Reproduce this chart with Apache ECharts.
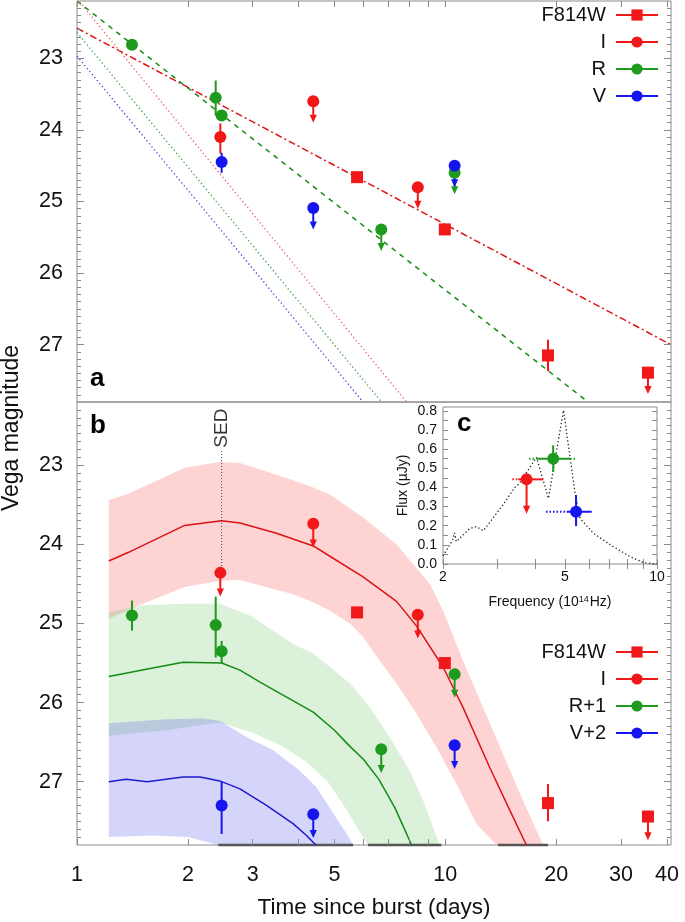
<!DOCTYPE html>
<html><head><meta charset="utf-8">
<script src="https://cdn.jsdelivr.net/npm/echarts@6/dist/echarts.min.js"></script>
<style>html,body{margin:0;padding:0;background:#fff}#c{width:685px;height:922px}</style>
</head><body><div id="c"></div>
<script>
// ================= DATA =================
// Panel a : Vega magnitudes vs time (days)
const aF814W    = [[5.76,24.66],[9.97,25.39],[19.0,27.15],[35.5,27.39]];
const aF814WErr = [[19.0,26.93,27.37]];
const aF814WLim = [[35.5,27.39]];
const aI        = [[2.45,24.10],[4.38,23.60],[8.42,24.80]];
const aIErr     = [[2.45,23.91,24.33]];
const aILim     = [[4.38,23.60],[8.42,24.80]];
const aR        = [[1.41,22.81],[2.38,23.55],[2.47,23.80],[6.70,25.39],[10.6,24.60]];
const aRErr     = [[2.38,23.31,23.80]];
const aRLim     = [[6.70,25.39],[10.6,24.60]];
const aV        = [[2.47,24.45],[4.38,25.09],[10.6,24.50]];
const aVErr     = [[2.47,24.32,24.60]];
const aVLim     = [[4.38,25.09],[10.6,24.50]];
// Panel a : power-law fits
const fitF814W = [[1,22.58],[41,27.00]];
const fitR     = [[1,22.20],[24.4,27.80]];
const fitIdot  = [[1,22.17],[7.85,27.80]];
const fitRdot  = [[1,22.64],[6.71,27.80]];
const fitVdot  = [[1,22.97],[5.98,27.80]];

// Panel b
const bF814W    = [[5.76,24.86],[9.97,25.50],[19.0,27.27],[35.5,27.44]];
const bF814WErr = [[19.0,27.03,27.50]];
const bF814WLim = [[35.5,27.44]];
const bI        = [[2.45,24.36],[4.38,23.74],[8.42,24.89]];
const bILim     = [[2.45,24.36],[4.38,23.74],[8.42,24.89]];
const bR        = [[1.41,24.90],[2.38,25.02],[2.47,25.35],[6.70,26.59],[10.6,25.64]];
const bRErr     = [[1.41,24.71,25.09],[2.38,24.66,25.43],[2.47,25.22,25.51]];
const bRLim     = [[6.70,26.59],[10.6,25.64]];
const bV        = [[2.47,27.30],[4.38,27.41],[10.6,26.54]];
const bVErr     = [[2.47,27.00,27.66]];
const bVLim     = [[4.38,27.41],[10.6,26.54]];
// Panel b : models and bands
const redModel = [[1.22,24.21],[1.38,24.10],[1.96,23.76],[2.47,23.70],[2.77,23.73],[3.48,23.86],[4.38,24.02],[4.86,24.15],[5.98,24.41],[7.37,24.72],[8.35,25.03],[9.86,25.55],[11.17,26.06],[13.2,26.82],[14.96,27.36],[16.6,27.80]];
const redUpper = [[1.22,23.44],[1.38,23.36],[1.96,23.03],[2.44,22.96],[2.77,22.97],[3.86,23.19],[4.38,23.28],[4.86,23.37],[5.98,23.66],[7.37,24.00],[9.08,24.50],[9.86,24.84],[11.17,25.47],[12.66,26.06],[14.35,26.65],[16.26,27.24],[18.43,27.80],[19.5,28.10]];
const redLower = [[1.22,24.94],[1.42,24.80],[1.96,24.54],[2.44,24.46],[2.77,24.45],[3.86,24.63],[4.38,24.73],[4.86,24.84],[5.51,25.00],[5.98,25.17],[6.64,25.47],[7.37,25.76],[8.35,26.14],[9.46,26.56],[10.72,27.03],[12.15,27.53],[13.77,27.80],[14.5,28.00]];
const greenModel = [[1.22,25.67],[1.58,25.57],[1.94,25.49],[2.47,25.50],[2.77,25.59],[3.14,25.74],[4.38,26.12],[5.0,26.35],[5.5,26.55],[6.0,26.72],[6.6,26.97],[7.3,27.33],[8.1,27.80]];
const greenUpper = [[1.22,24.86],[1.5,24.77],[1.96,24.75],[2.44,24.75],[2.95,24.90],[3.86,25.26],[4.38,25.38],[4.86,25.55],[5.51,25.76],[6.24,26.06],[7.07,26.44],[8.01,26.86],[8.71,27.24],[9.66,27.80],[10.2,28.10]];
const greenLower = [[1.22,26.42],[1.75,26.35],[2.44,26.25],[3.0,26.38],[3.6,26.55],[4.2,26.75],[4.8,27.00],[5.3,27.30],[5.8,27.60],[6.17,27.80],[6.4,28.00]];
const blueModel = [[1.22,27.00],[1.36,26.97],[1.55,27.00],[1.94,26.94],[2.16,26.94],[2.44,26.99],[2.77,27.09],[3.27,27.30],[3.86,27.53],[4.2,27.68],[4.45,27.80]];
const blueUpper = [[1.22,26.26],[1.75,26.21],[2.2,26.20],[2.44,26.23],[2.9,26.44],[3.4,26.60],[4.0,26.85],[4.47,27.07],[4.96,27.40],[5.4,27.66],[5.62,27.80],[5.8,28.00]];
const blueLower = [[1.22,27.70],[1.6,27.68],[2.0,27.70],[2.42,27.80],[2.6,27.95]];
const bandFloor = [[2.42,5.62],[6.17,9.76],[13.9,19.0]];
const sedLine = [[2.47,22.82],[2.47,24.36]];
const sedLabel = [[2.47,22.53]];

// Panel c : SED (frequency 1e14 Hz, flux uJy)
const spec = [[2.0,0.042],[2.15,0.125],[2.18,0.163],[2.21,0.117],[2.45,0.186],[2.57,0.195],[2.71,0.174],[2.99,0.264],[3.22,0.334],[3.43,0.40],[3.55,0.42],[4.04,0.557],[4.42,0.343],[4.95,0.803],[5.40,0.369],[5.61,0.238],[6.20,0.16],[7.21,0.09],[8.18,0.038],[9.04,0.007],[10.0,0.0]];
const cI = [[3.75,0.442]];
const cIh = [[3.52,4.25,0.442]];
const cIhDot = [[3.37,3.52,0.442]];
const cILim = [[3.75,0.442]];
const cR = [[4.58,0.55]];
const cRv = [[4.58,0.48,0.62]];
const cRh = [[4.04,5.20,0.55]];
const cRhDot = [[3.82,4.04,0.55],[5.20,5.40,0.55]];
const cV = [[5.44,0.273]];
const cVv = [[5.44,0.198,0.36]];
const cVh = [[5.07,6.12,0.273]];
const cVhDot = [[4.34,5.07,0.273]];

// ticks / labels
const xTickVals = [1,2,3,4,5,6,7,8,9,10,20,30,40];
const xLabelVals = [1,2,3,5,10,20,30,40];
const magLabelVals = [23,24,25,26,27];
const magMinor = []; for (let i = 223; i <= 277; i++) { if (i % 10) magMinor.push(i / 10); }
const cTickX = [2,3,4,5,6,7,8,9,10];
const cLabelX = [2,5,10];
const cLabelY = [0,0.1,0.2,0.3,0.4,0.5,0.6,0.7,0.8];
const cTickY = []; for (let i = 0; i <= 16; i++) cTickY.push(+(i * 0.05).toFixed(2));

// ================= STYLE =================
const FONT = 'Liberation Sans';
const AX = '#8a8a8a';
const RED = '#f01818', GREEN = '#1e9a1e', BLUE = '#1515f0';
const REDL = '#dd1414', GREENL = '#148c14', BLUEL = '#1c1cd0';

// ================= HELPERS =================
function yMain(grid, pos, major, labels) {
  return {type:'value', gridIndex:grid, position:pos, inverse:true, min:22.2, max:27.8, z:10,
    axisLine:{show:false}, splitLine:{show:false},
    axisTick:{show:true, inside:true, length: major ? 7 : 4, customValues: major ? magLabelVals : magMinor, lineStyle:{color:AX, width:1}},
    axisLabel:{show:!!labels, customValues:magLabelVals, fontSize:21.5, color:'#111', margin:14, fontFamily:FONT}};
}
function xMain(grid, pos, labels, ticks) {
  return {type:'log', logBase:10, gridIndex:grid, position:pos, min:1, max:41, z:10,
    axisLine:{show:false}, splitLine:{show:false}, minorTick:{show:false},
    axisTick:{show:ticks, inside:true, length:6, customValues:xTickVals, lineStyle:{color:AX}},
    axisLabel:{show:labels, customValues:xLabelVals, fontSize:21.5, margin:19, color:'#111', fontFamily:FONT},
    name: labels ? 'Time since burst (days)' : '', nameLocation:'middle', nameGap:51,
    nameTextStyle:{fontSize:22.5, color:'#111', fontFamily:FONT}};
}
function vErr(color, lw) { return function (params, api) {
  const a = api.coord([api.value(0), api.value(1)]), b = api.coord([api.value(0), api.value(2)]);
  return {type:'line', shape:{x1:a[0], y1:a[1], x2:b[0], y2:b[1]}, style:{stroke:color, lineWidth:lw}};
};}
function hErr(color, lw, dash) { return function (params, api) {
  const a = api.coord([api.value(0), api.value(2)]), b = api.coord([api.value(1), api.value(2)]);
  return {type:'line', shape:{x1:a[0], y1:a[1], x2:b[0], y2:b[1]}, style:{stroke:color, lineWidth:lw, lineDash: dash || null}};
};}
function arrowR(color, len) { return function (params, api) {
  const x = api.value(0), y = api.value(1);
  const a = api.coord([x, y]), b = api.coord([x, y + len]);
  const ah = 8, aw = 3.6;
  return {type:'group', children:[
    {type:'line', shape:{x1:a[0], y1:a[1], x2:b[0], y2:b[1] - ah + 1}, style:{stroke:color, lineWidth:2}},
    {type:'polygon', shape:{points:[[b[0] - aw, b[1] - ah], [b[0] + aw, b[1] - ah], [b[0], b[1]]]}, style:{fill:color}}
  ]};
};}
function cust(data, render, xi, yi, z) {
  return {type:'custom', data:data, renderItem:render, xAxisIndex:xi, yAxisIndex:yi, z:z, silent:true, animation:false};
}
function markers(name, data, color, symbol, size, xi, yi) {
  return {type:'line', name:name, data:data, xAxisIndex:xi, yAxisIndex:yi, symbol:symbol, symbolSize:size,
    showSymbol:true, showAllSymbol:true, lineStyle:{opacity:0, width:2, color:color},
    itemStyle:{color:color, borderWidth:0}, z:6, silent:true, animation:false, clip:false};
}
function line(data, color, width, type, xi, yi, z) {
  return {type:'line', data:data, xAxisIndex:xi, yAxisIndex:yi, symbol:'none', silent:true, animation:false,
    lineStyle:{color:color, width:width, type:type}, z:z || 3};
}
function band(upper, lower, fill) {
  const poly = upper.concat(lower.slice().reverse());
  return {type:'custom', xAxisIndex:2, yAxisIndex:4, z:1, silent:true, animation:false, data: poly,
    renderItem: function (params, api) {
      if (params.dataIndex !== 0) return null;
      const cs = params.coordSys;
      return {type:'polygon', shape:{points: poly.map(function (p) { return api.coord(p); })}, style:{fill:fill},
        clipPath:{type:'rect', shape:{x:cs.x, y:cs.y, width:cs.width, height:cs.height}}};
    }};
}
function floorSeg(color) { return function (params, api) {
  const a = api.coord([api.value(0), 27.8]), b = api.coord([api.value(1), 27.8]);
  return {type:'line', shape:{x1:a[0], y1:a[1], x2:b[0], y2:b[1]}, style:{stroke:color, lineWidth:2.5}};
};}

// ================= OPTION =================
const DOT = [1.3, 2.6];
const series = [
  // ---- panel a (x 0, y 0)
  line(fitF814W, REDL, 1.5, [7, 3, 2, 3], 0, 0),
  line(fitR, GREENL, 1.5, [5, 5], 0, 0),
  line(fitIdot, '#f06060', 1.3, DOT, 0, 0),
  line(fitRdot, '#40a040', 1.3, DOT, 0, 0),
  line(fitVdot, '#4040e0', 1.3, DOT, 0, 0),
  cust(aF814WErr, vErr(RED, 2), 0, 0, 4),
  cust(aIErr, vErr(RED, 2), 0, 0, 4),
  cust(aRErr, vErr(GREEN, 2), 0, 0, 4),
  cust(aVErr, vErr(BLUE, 2), 0, 0, 4),
  cust(aF814WLim, arrowR(RED, 0.3), 0, 0, 4),
  cust(aILim, arrowR(RED, 0.3), 0, 0, 4),
  cust(aRLim, arrowR(GREEN, 0.3), 0, 0, 4),
  cust(aVLim, arrowR(BLUE, 0.3), 0, 0, 4),
  markers('F814W', aF814W, RED, 'rect', 12, 0, 0),
  markers('I', aI, RED, 'circle', 12, 0, 0),
  markers('R', aR, GREEN, 'circle', 12, 0, 0),
  markers('V', aV, BLUE, 'circle', 12, 0, 0),
  // ---- panel b (x 2, y 4)
  band(redUpper, redLower, 'rgba(245,70,70,0.24)'),
  band(greenUpper, greenLower, 'rgba(90,190,80,0.22)'),
  band(blueUpper, blueLower, 'rgba(80,80,240,0.24)'),
  cust(bandFloor, floorSeg('#555'), 2, 4, 2),
  line(redModel, REDL, 1.5, 'solid', 2, 4),
  line(greenModel, GREENL, 1.5, 'solid', 2, 4),
  line(blueModel, BLUEL, 1.5, 'solid', 2, 4),
  line(sedLine, '#444', 1, [1, 2], 2, 4),
  {type:'scatter', data:sedLabel, xAxisIndex:2, yAxisIndex:4, symbolSize:0, silent:true, animation:false,
   label:{show:true, formatter:'SED', rotate:90, position:'inside', fontSize:19, color:'#000', fontFamily:FONT}},
  cust(bF814WErr, vErr(RED, 2), 2, 4, 4),
  cust(bRErr, vErr(GREEN, 2), 2, 4, 4),
  cust(bVErr, vErr(BLUE, 2), 2, 4, 4),
  cust(bF814WLim, arrowR(RED, 0.3), 2, 4, 4),
  cust(bILim, arrowR(RED, 0.3), 2, 4, 4),
  cust(bRLim, arrowR(GREEN, 0.3), 2, 4, 4),
  cust(bVLim, arrowR(BLUE, 0.3), 2, 4, 4),
  markers('F814W', bF814W, RED, 'rect', 12, 2, 4),
  markers('I', bI, RED, 'circle', 12, 2, 4),
  markers('R+1', bR, GREEN, 'circle', 12, 2, 4),
  markers('V+2', bV, BLUE, 'circle', 12, 2, 4),
  // ---- panel c (x 3, y 8)
  line(spec, '#222', 1.3, [1.3, 2.4], 3, 8),
  cust(cIhDot, hErr(RED, 2, [1.5, 2]), 3, 8, 4),
  cust(cRhDot, hErr(GREEN, 2, [1.5, 2]), 3, 8, 4),
  cust(cVhDot, hErr(BLUE, 2, [1.5, 2]), 3, 8, 4),
  cust(cIh, hErr(RED, 2), 3, 8, 4),
  cust(cRh, hErr(GREEN, 2), 3, 8, 4),
  cust(cVh, hErr(BLUE, 2), 3, 8, 4),
  cust(cRv, vErr(GREEN, 2), 3, 8, 4),
  cust(cVv, vErr(BLUE, 2), 3, 8, 4),
  cust(cILim, arrowR(RED, -0.18), 3, 8, 4),
  markers('cI', cI, RED, 'circle', 12, 3, 8),
  markers('cR', cR, GREEN, 'circle', 12, 3, 8),
  markers('cV', cV, BLUE, 'circle', 12, 3, 8)
];

const legendBase = {orient:'vertical', align:'right', right:26, padding:0, itemWidth:42, itemHeight:14, itemGap:7,
  selectedMode:false, textStyle:{fontSize:20, color:'#111', fontFamily:FONT, padding:[0,5,0,0]}, lineStyle:{opacity:1, width:2}};

const option = {
  animation:false,
  textStyle:{fontFamily:FONT},
  grid:[
    {left:77, top:1, width:594, height:401, show:true, borderColor:AX, borderWidth:1, backgroundColor:'transparent'},
    {left:77, top:402, width:594, height:443, show:true, borderColor:AX, borderWidth:1, backgroundColor:'transparent'},
    {left:443, top:407, width:214, height:157, show:true, borderColor:AX, borderWidth:1, backgroundColor:'#fff'}
  ],
  xAxis:[
    xMain(0, 'top', false, true),
    xMain(0, 'bottom', false, false),
    xMain(1, 'bottom', true, true),
    {type:'log', logBase:10, gridIndex:2, position:'bottom', min:2, max:10, z:10,
     axisLine:{show:false}, splitLine:{show:false}, minorTick:{show:false},
     axisTick:{show:true, inside:true, length:5, customValues:cTickX, lineStyle:{color:AX}},
     axisLabel:{show:true, customValues:cLabelX, fontSize:14, margin:6, color:'#111', fontFamily:FONT},
     name:'Frequency (10{sup|14}Hz)', nameLocation:'middle', nameGap:31,
     nameTextStyle:{fontSize:14, color:'#111', fontFamily:FONT, rich:{sup:{fontSize:9, verticalAlign:'top', padding:[0,1,6,0]}}}},
    {type:'log', logBase:10, gridIndex:2, position:'top', min:2, max:10, z:10,
     axisLine:{show:false}, splitLine:{show:false}, minorTick:{show:false},
     axisTick:{show:true, inside:true, length:5, customValues:cTickX, lineStyle:{color:AX}},
     axisLabel:{show:false}}
  ],
  yAxis:[
    yMain(0, 'left', true, true), yMain(0, 'left', false), yMain(0, 'right', true), yMain(0, 'right', false),
    yMain(1, 'left', true, true), yMain(1, 'left', false), yMain(1, 'right', true), yMain(1, 'right', false),
    {type:'value', gridIndex:2, position:'left', min:0, max:0.82, z:10,
     axisLine:{show:false}, splitLine:{show:false},
     axisTick:{show:true, inside:true, length:5, customValues:cTickY, lineStyle:{color:AX}},
     axisLabel:{show:true, customValues:cLabelY, fontSize:14, margin:6, color:'#111', fontFamily:FONT,
       formatter:function (v) { return v.toFixed(1); }},
     name:'Flux (\u00b5Jy)', nameLocation:'middle', nameGap:33, nameTextStyle:{fontSize:14, color:'#111', fontFamily:FONT}},
    {type:'value', gridIndex:2, position:'right', min:0, max:0.82, z:10,
     axisLine:{show:false}, splitLine:{show:false},
     axisTick:{show:true, inside:true, length:5, customValues:cTickY, lineStyle:{color:AX}},
     axisLabel:{show:false}}
  ],
  legend:[
    Object.assign({}, legendBase, {data:['F814W','I','R','V'], top:5}),
    Object.assign({}, legendBase, {data:['F814W','I','R+1','V+2'], top:642})
  ],
  graphic:[
    {type:'text', x:90, y:379, style:{text:'a', fontSize:26, fontWeight:'bold', fontFamily:FONT, fill:'#000', verticalAlign:'middle'}},
    {type:'text', x:90, y:426, style:{text:'b', fontSize:26, fontWeight:'bold', fontFamily:FONT, fill:'#000', verticalAlign:'middle'}},
    {type:'text', x:457, y:424, z:100, style:{text:'c', fontSize:26, fontWeight:'bold', fontFamily:FONT, fill:'#000', verticalAlign:'middle'}},
    {type:'text', x:12, y:428, rotation:Math.PI / 2, style:{text:'Vega magnitude', fontSize:23, fontFamily:FONT, fill:'#111', align:'center', verticalAlign:'middle'}}
  ],
  series: series
};
const chart = echarts.init(document.getElementById('c'), null, {renderer:'canvas'});
chart.setOption(option);
</script></body></html>
